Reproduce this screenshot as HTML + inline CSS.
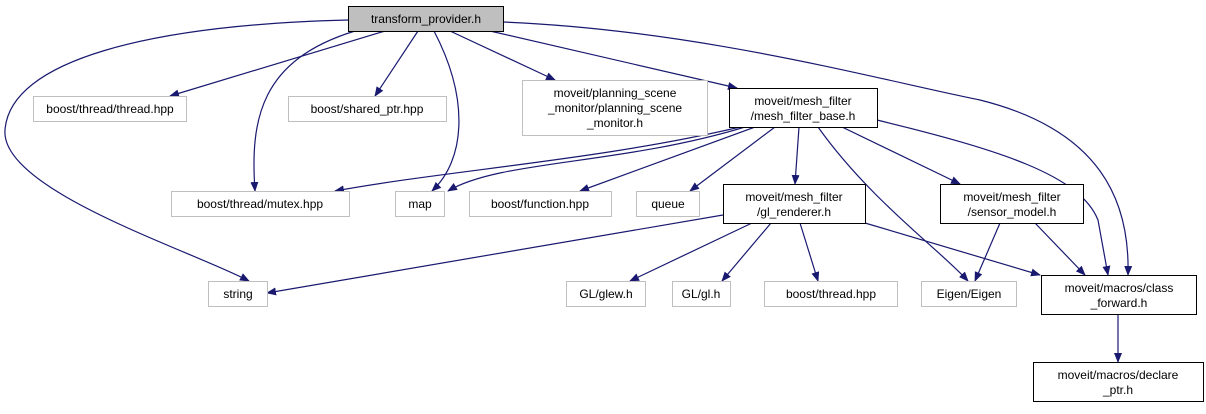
<!DOCTYPE html>
<html><head><meta charset="utf-8"><style>
body{margin:0;background:#fff;width:1206px;height:409px;overflow:hidden}
svg text{font-family:"Liberation Sans",sans-serif;font-size:12px;fill:#000}
</style></head><body>
<svg width="1206" height="409" viewBox="0 0 1206 409" xmlns="http://www.w3.org/2000/svg">
<defs><marker id="a" markerWidth="10" markerHeight="8" refX="9" refY="4" orient="auto" markerUnits="userSpaceOnUse"><path d="M0,0 L10,4 L0,8 Z" fill="#191970"/></marker></defs>
<g fill="none" stroke="#191970" stroke-width="1.2" marker-end="url(#a)">
<path d="M348,20 C150,25 10,60 5,130 C0,190 190,250 249,281"/>
<path d="M385,31 L170,96"/>
<path d="M355,31 C260,60 250,120 255,191"/>
<path d="M418,31 L375,96"/>
<path d="M434,31 C470,100 465,160 432,191"/>
<path d="M450,31 L555,80"/>
<path d="M490,31 L737,88"/>
<path d="M503,22 C700,30 880,80 980,100 C1100,130 1130,200 1128,275"/>
<path d="M740,127 C600,160 450,170 335,191"/>
<path d="M745,127 C620,165 500,160 448,191"/>
<path d="M755,127 L580,191"/>
<path d="M775,127 L690,191"/>
<path d="M799,127 L795,184"/>
<path d="M818,127 C870,200 940,250 968,281"/>
<path d="M842,127 L960,184"/>
<path d="M877,120 C1000,150 1080,175 1098,220 L1108,275"/>
<path d="M723,215 L267,293"/>
<path d="M752,223 L630,281"/>
<path d="M771,223 L722,281"/>
<path d="M800,223 L818,281"/>
<path d="M865,223 L1040,275"/>
<path d="M1000,223 L975,281"/>
<path d="M1035,223 L1085,275"/>
<path d="M1118,315 L1118,362"/>
</g>
<g stroke-width="1">
<rect x="348.5" y="6.5" width="155" height="25" fill="#bfbfbf" stroke="#000"/>
<g fill="#fff" stroke="#bfbfbf">
<rect x="33.5" y="96.5" width="153" height="25"/>
<rect x="288.5" y="96.5" width="158" height="25"/>
<rect x="522.5" y="80.5" width="185" height="55"/>
<rect x="171.5" y="191.5" width="178" height="25"/>
<rect x="395.5" y="191.5" width="49" height="25"/>
<rect x="469.5" y="191.5" width="142" height="25"/>
<rect x="636.5" y="191.5" width="63" height="25"/>
<rect x="208.5" y="281.5" width="59" height="25"/>
<rect x="566.5" y="281.5" width="79" height="25"/>
<rect x="672.5" y="281.5" width="58" height="25"/>
<rect x="764.5" y="281.5" width="133" height="25"/>
<rect x="921.5" y="281.5" width="95" height="25"/>
</g>
<g fill="#fff" stroke="#000">
<rect x="729.5" y="88.5" width="148" height="39"/>
<rect x="723.5" y="184.5" width="142" height="39"/>
<rect x="940.5" y="184.5" width="143" height="39"/>
<rect x="1041.5" y="275.5" width="155" height="39"/>
<rect x="1033.5" y="362.5" width="170" height="39"/>
</g>
</g>
<g text-anchor="middle">
<text x="426" y="23">transform_provider.h</text>
<text x="110" y="113">boost/thread/thread.hpp</text>
<text x="367" y="113">boost/shared_ptr.hpp</text>
<text x="615" y="97">moveit/planning_scene</text>
<text x="615" y="112">_monitor/planning_scene</text>
<text x="615" y="127">_monitor.h</text>
<text x="803" y="105">moveit/mesh_filter</text>
<text x="803" y="120">/mesh_filter_base.h</text>
<text x="260" y="208">boost/thread/mutex.hpp</text>
<text x="420" y="208">map</text>
<text x="540" y="208">boost/function.hpp</text>
<text x="668" y="208">queue</text>
<text x="794" y="201">moveit/mesh_filter</text>
<text x="794" y="216">/gl_renderer.h</text>
<text x="1012" y="201">moveit/mesh_filter</text>
<text x="1012" y="216">/sensor_model.h</text>
<text x="238" y="298">string</text>
<text x="606" y="298">GL/glew.h</text>
<text x="701" y="298">GL/gl.h</text>
<text x="831" y="298">boost/thread.hpp</text>
<text x="969" y="298">Eigen/Eigen</text>
<text x="1119" y="292">moveit/macros/class</text>
<text x="1119" y="307">_forward.h</text>
<text x="1118" y="379">moveit/macros/declare</text>
<text x="1118" y="394">_ptr.h</text>
</g>
</svg>
</body></html>
